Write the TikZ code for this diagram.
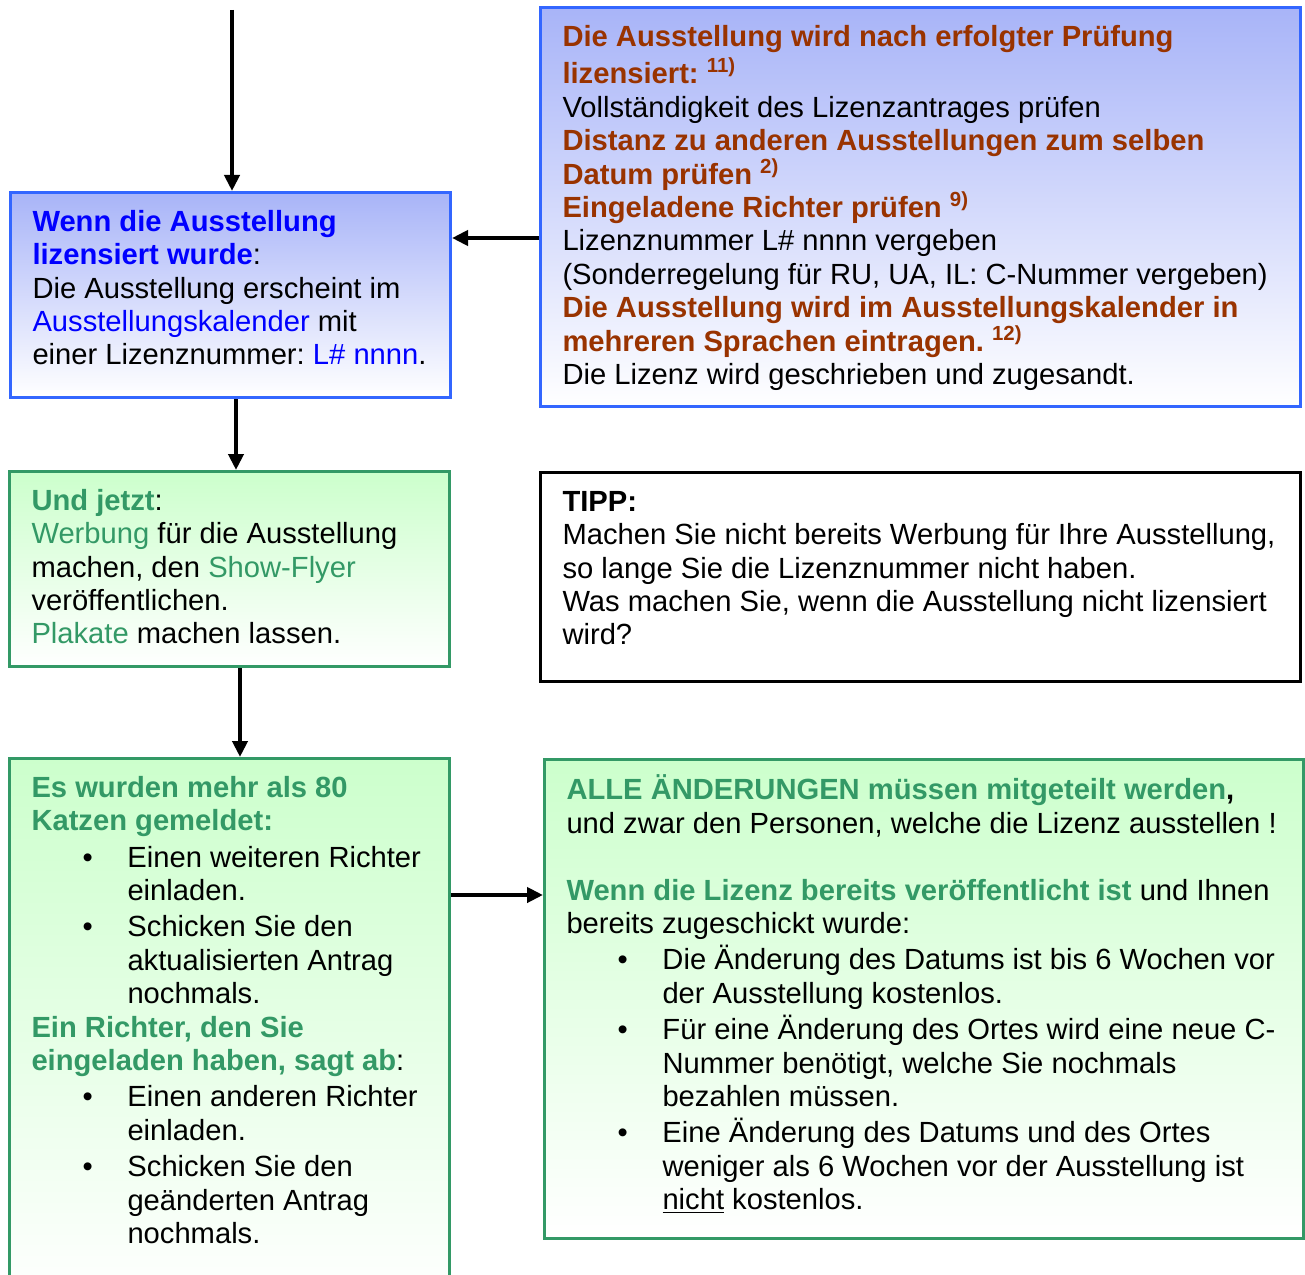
\documentclass[tikz,border=0pt]{standalone}
\usepackage{fontspec}
\setmainfont{Liberation Sans}
\usetikzlibrary{arrows.meta}

\definecolor{boxblue}{HTML}{3366FF}
\definecolor{fillblue}{HTML}{A8B4F8}
\definecolor{headblue}{HTML}{0000FF}
\definecolor{boxgreen}{HTML}{339966}
\definecolor{fillgreen}{HTML}{CCFFCC}
\definecolor{headbrown}{HTML}{993300}

\frenchspacing
\newcommand{\boxtext}[3]{\parbox[t][#2][t]{#1}{\vspace*{3.1mm}\strut#3}}
\newcommand{\bitem}[1]{\par\vspace{0.6mm}\noindent\hangindent=19.2mm\hangafter=1\hspace*{10.2mm}\makebox[9mm][l]{\textbullet}#1\par}

\begin{document}
\begin{tikzpicture}[x=0.2mm,y=-0.2mm,
    infobox/.style={draw, line width=0.6mm, anchor=north west, inner xsep=4.4mm, inner ysep=0pt,
      font=\fontsize{16.6}{19.0}\selectfont},
    bluebox/.style={infobox, draw=boxblue, top color=fillblue, bottom color=white},
    greenbox/.style={infobox, draw=boxgreen, top color=fillgreen, bottom color=white},
    tippbox/.style={infobox, draw=black, fill=white},
    flow/.style={-{Triangle[length=3.2mm,width=3mm]}, line width=0.8mm}]
    \useasboundingbox (0,0) rectangle (1305,1275);

    % Blue boxes
    \node[bluebox] (lizenz) at (9,191) {\boxtext{79.2mm}{41mm}{%
      {\color{headblue}\bfseries Wenn die Ausstellung\\ lizensiert wurde}:\\
      Die Ausstellung erscheint im\\
      {\color{headblue}Ausstellungskalender} mit\\
      einer Lizenznummer: {\color{headblue}L\# nnnn}.}};
    \node[bluebox] (pruefung) at (539,6) {\boxtext{143.2mm}{79.8mm}{%
      {\color{headbrown}\bfseries Die Ausstellung wird nach erfolgter Prüfung\\ lizensiert: \textsuperscript{11)}}\\
      Vollständigkeit des Lizenzantrages prüfen\\
      {\color{headbrown}\bfseries Distanz zu anderen Ausstellungen zum selben\\ Datum prüfen \textsuperscript{2)}}\\
      {\color{headbrown}\bfseries Eingeladene Richter prüfen \textsuperscript{9)}}\\
      Lizenznummer L\# nnnn vergeben\\
      (Sonderregelung für RU, UA, IL: C-Nummer vergeben)\\
      {\color{headbrown}\bfseries Die Ausstellung wird im Ausstellungskalender in\\ mehreren Sprachen eintragen. \textsuperscript{12)}}\\
      Die Lizenz wird geschrieben und zugesandt.}};

    % Green boxes
    \node[greenbox] (werbung) at (8,470) {\boxtext{79.2mm}{39mm}{%
      {\color{boxgreen}\bfseries Und jetzt}:\\
      {\color{boxgreen}Werbung} für die Ausstellung\\
      machen, den {\color{boxgreen}Show-Flyer}\\
      veröffentlichen.\\
      {\color{boxgreen}Plakate} machen lassen.}};
    \node[greenbox] (katzen) at (8,757) {\boxtext{79.2mm}{109mm}{%
      {\color{boxgreen}\bfseries Es wurden mehr als 80\\ Katzen gemeldet:}
      \bitem{Einen weiteren Richter\\ einladen.}
      \bitem{Schicken Sie den\\ aktualisierten Antrag\\ nochmals.}
      {\color{boxgreen}\bfseries Ein Richter, den Sie\\ eingeladen haben, sagt ab}:
      \bitem{Einen anderen Richter\\ einladen.}
      \bitem{Schicken Sie den\\ geänderten Antrag\\ nochmals.}}};
    \node[greenbox] (aenderung) at (543,758) {\boxtext{143mm}{95.8mm}{%
      {\color{boxgreen}\bfseries ALLE ÄNDERUNGEN müssen mitgeteilt werden}{\bfseries ,}\\
      und zwar den Personen, welche die Lizenz ausstellen !\\[\baselineskip]
      {\color{boxgreen}\bfseries Wenn die Lizenz bereits veröffentlicht ist} und Ihnen\\
      bereits zugeschickt wurde:
      \bitem{Die Änderung des Datums ist bis 6 Wochen vor\\ der Ausstellung kostenlos.}
      \bitem{Für eine Änderung des Ortes wird eine neue C-\\ Nummer benötigt, welche Sie nochmals\\ bezahlen müssen.}
      \bitem{Eine Änderung des Datums und des Ortes\\ weniger als 6 Wochen vor der Ausstellung ist\\ \underline{nicht} kostenlos.}}};

    % Tip box
    \node[tippbox] (tipp) at (539,471) {\boxtext{143.2mm}{41.8mm}{%
      {\bfseries TIPP:}\\
      Machen Sie nicht bereits Werbung für Ihre Ausstellung,\\
      so lange Sie die Lizenznummer nicht haben.\\
      Was machen Sie, wenn die Ausstellung nicht lizensiert\\
      wird?}};

    % Arrows
    \coordinate (start) at (232,10);
    \draw[flow] (start) -- (start |- lizenz.north);
    \draw[flow] (pruefung.west |- 0,238) -- (lizenz.east |- 0,238);
    \draw[flow] (lizenz.south -| 236,0) -- (werbung.north -| 236,0);
    \draw[flow] (werbung.south -| 240,0) -- (katzen.north -| 240,0);
    \draw[flow] (katzen.east |- 0,895) -- (aenderung.west |- 0,895);
\end{tikzpicture}
\end{document}
